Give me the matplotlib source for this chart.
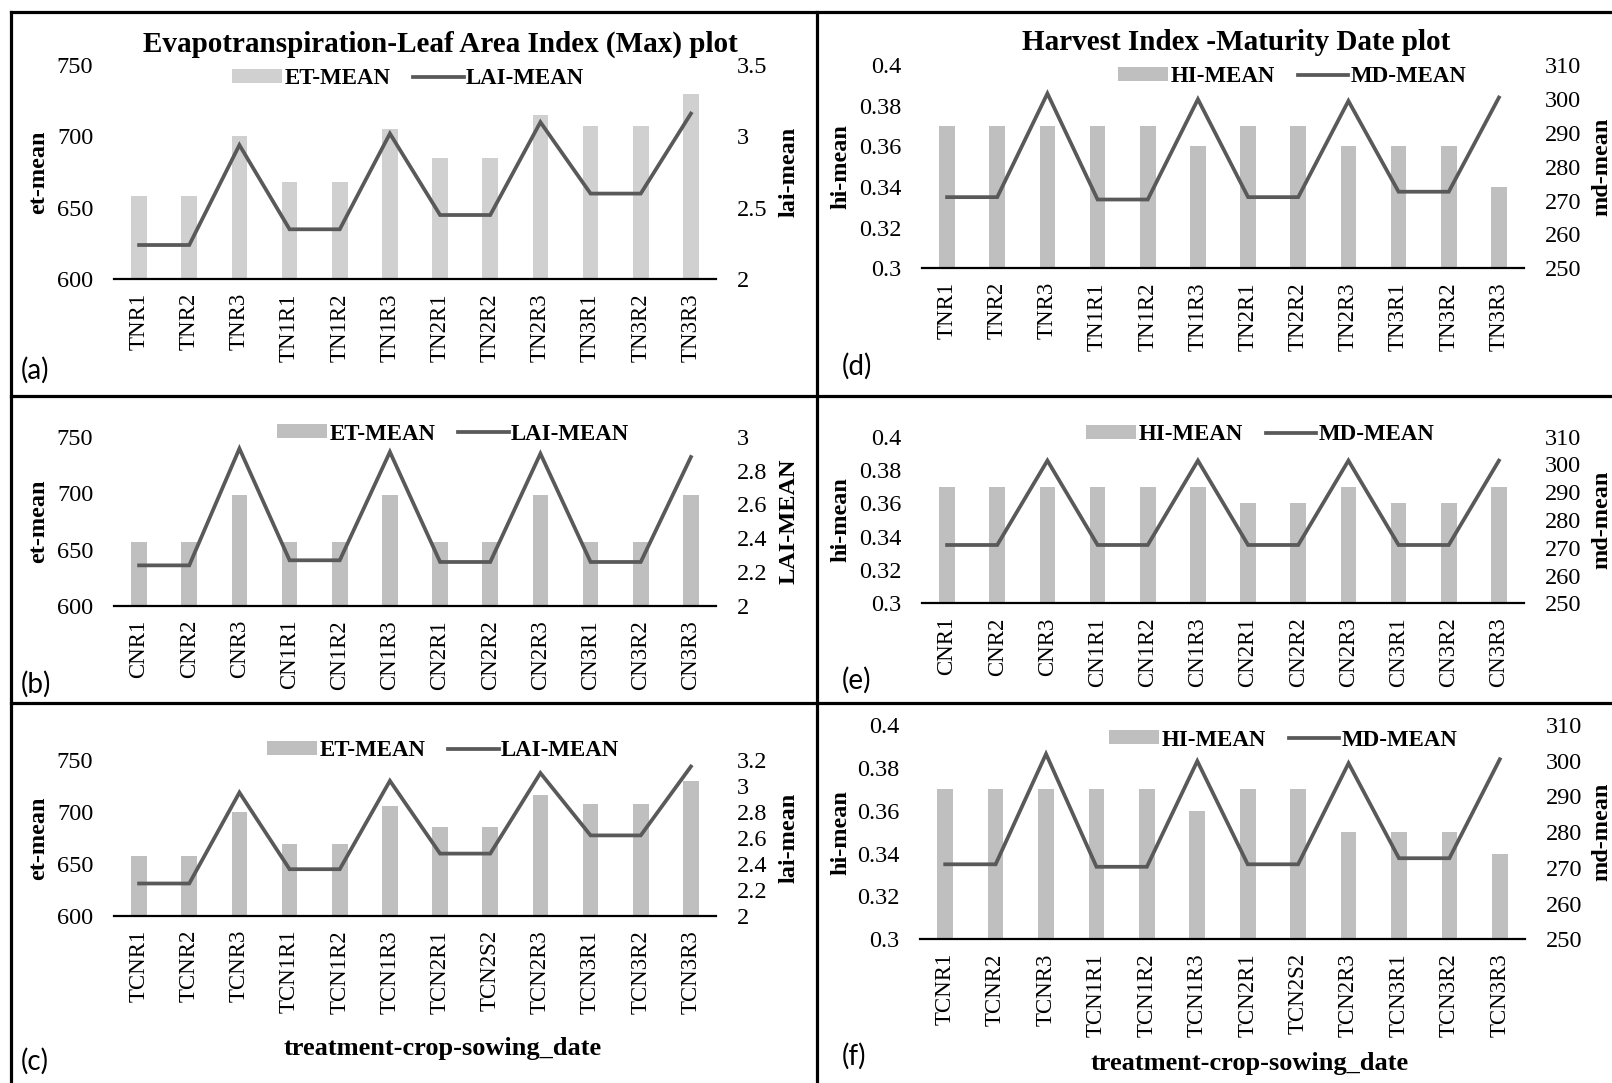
import matplotlib
matplotlib.use("Agg")
import matplotlib.pyplot as plt

W, H = 1612, 1083

# categories
t_cats = ["TNR1", "TNR2", "TNR3", "TN1R1", "TN1R2", "TN1R3",
          "TN2R1", "TN2R2", "TN2R3", "TN3R1", "TN3R2", "TN3R3"]
c_cats = ["CNR1", "CNR2", "CNR3", "CN1R1", "CN1R2", "CN1R3",
          "CN2R1", "CN2R2", "CN2R3", "CN3R1", "CN3R2", "CN3R3"]
tc_cats = ["TCNR1", "TCNR2", "TCNR3", "TCN1R1", "TCN1R2", "TCN1R3",
           "TCN2R1", "TCN2S2", "TCN2R3", "TCN3R1", "TCN3R2", "TCN3R3"]

# evapotranspiration / leaf area index
et_a = [658, 658, 700, 668, 668, 705, 685, 685, 715, 707, 707, 730]
lai_a = [2.24, 2.24, 2.94, 2.35, 2.35, 3.02, 2.45, 2.45, 3.10, 2.60, 2.60, 3.16]
et_b = [657, 657, 698, 657, 657, 698, 657, 657, 698, 657, 657, 698]
lai_b = [2.24, 2.24, 2.93, 2.27, 2.27, 2.91, 2.26, 2.26, 2.90, 2.26, 2.26, 2.88]
et_c = [658, 658, 700, 669, 669, 706, 686, 686, 716, 708, 708, 730]
lai_c = [2.25, 2.25, 2.95, 2.36, 2.36, 3.04, 2.48, 2.48, 3.10, 2.62, 2.62, 3.15]

# harvest index / maturity date
hi_d = [0.37, 0.37, 0.37, 0.37, 0.37, 0.36, 0.37, 0.37, 0.36, 0.36, 0.36, 0.34]
md_d = [271, 271, 301.6, 270.3, 270.3, 299.9, 271, 271, 299.4, 272.6, 272.6, 300.4]
hi_e = [0.37, 0.37, 0.37, 0.37, 0.37, 0.37, 0.36, 0.36, 0.37, 0.36, 0.36, 0.37]
md_e = [271, 271, 301.4, 271, 271, 301.4, 271, 271, 301.4, 271, 271, 301.4]
hi_f = [0.37, 0.37, 0.37, 0.37, 0.37, 0.36, 0.37, 0.37, 0.35, 0.35, 0.35, 0.34]
md_f = [271, 271, 301.9, 270.3, 270.3, 299.9, 271, 271, 299.3, 272.7, 272.7, 300.4]

et_ticks = [600, 650, 700, 750]
hi_ticks = [0.3, 0.32, 0.34, 0.36, 0.38, 0.4]
md_ticks = [250, 260, 270, 280, 290, 300, 310]

LINE = "#595959"
SERIF = "Liberation Serif"
plt.rcParams["font.family"] = [SERIF, "DejaVu Serif"]

fig = plt.figure(figsize=(W / 100, H / 100), dpi=100)


def fx(x):
    return x / W


def fy(y):
    return 1 - y / H


def panel(box, cats, bars, line, bar_color, yticks, y2ticks, ylab, y2lab,
          names, leg_xy, ylab_x, y2lab_x, tag, tag_xy, xlab=None):
    x0, y0, x1, y1 = box
    ax = fig.add_axes([fx(x0), fy(y1), fx(x1 - x0), (y1 - y0) / H])
    pos = list(range(len(cats)))
    ax.bar(pos, bars, width=0.31, color=bar_color, label=names[0], zorder=2)
    ax.set_xlim(-0.5, len(cats) - 0.5)
    ax.set_ylim(yticks[0], yticks[-1])
    ax.set_yticks(yticks)
    ax.set_yticklabels([f"{v:g}" for v in yticks], fontfamily=SERIF)
    ax.set_xticks(pos)
    ax.set_xticklabels(cats, rotation=90, fontfamily=SERIF)
    ax.tick_params(axis="y", length=0, pad=15, labelsize=17.5)
    ax.tick_params(axis="x", length=0, pad=10, labelsize=16.5)
    for s in ["top", "left", "right"]:
        ax.spines[s].set_visible(False)
    ax.spines["bottom"].set_linewidth(1.6)
    ax.spines["bottom"].set_zorder(5)
    ax.set_ylabel(ylab, fontsize=17.5, fontweight="bold", fontfamily=SERIF)
    ax.yaxis.set_label_coords(fx(ylab_x), fy((y0 + y1) / 2), transform=fig.transFigure)

    ax2 = ax.twinx()
    ax2.plot(pos, line, color=LINE, lw=2.7, label=names[1], solid_joinstyle="miter")
    ax2.set_ylim(y2ticks[0], y2ticks[-1])
    ax2.set_yticks(y2ticks)
    ax2.set_yticklabels([f"{v:g}" for v in y2ticks], fontfamily=SERIF)
    ax2.tick_params(axis="y", length=0, pad=15, labelsize=17.5)
    for s in ["top", "left", "right", "bottom"]:
        ax2.spines[s].set_visible(False)
    ax2.set_ylabel(y2lab, fontsize=17.5, fontweight="bold", fontfamily=SERIF)
    ax2.yaxis.set_label_coords(fx(y2lab_x), fy((y0 + y1) / 2), transform=fig.transFigure)

    h1, l1 = ax.get_legend_handles_labels()
    h2, l2 = ax2.get_legend_handles_labels()
    ax2.legend(h1 + h2, l1 + l2, loc="center", ncol=2, frameon=False,
               bbox_to_anchor=(fx(leg_xy[0]), fy(leg_xy[1])),
               bbox_transform=fig.transFigure,
               prop={"family": SERIF, "weight": "bold", "size": 16.5},
               handlelength=2.2, handleheight=0.55, handletextpad=0.1,
               columnspacing=1.0, borderpad=0)

    if xlab:
        ax.set_xlabel(xlab[0], fontsize=19, fontweight="bold", fontfamily=SERIF)
        ax.xaxis.set_label_coords(fx(xlab[1]), fy(xlab[2]), transform=fig.transFigure)

    fig.text(fx(tag_xy[0]), fy(tag_xy[1]), tag, family="Lato", fontsize=20,
             ha="left", va="center")
    return ax


panel((114, 65, 716, 279.3), t_cats, et_a, lai_a, "#d0d0d0", et_ticks,
      [2, 2.5, 3, 3.5], "et-mean", "lai-mean", ["ET-MEAN", "LAI-MEAN"],
      (408, 79), 49, 779, "(a)", (21, 370))
panel((114, 436.7, 716, 606), c_cats, et_b, lai_b, "#bfbfbf", et_ticks,
      [2, 2.2, 2.4, 2.6, 2.8, 3], "et-mean", "LAI-MEAN", ["ET-MEAN", "LAI-MEAN"],
      (453, 434), 49, 779, "(b)", (21, 684))
panel((114, 760, 716, 916), tc_cats, et_c, lai_c, "#bfbfbf", et_ticks,
      [2, 2.2, 2.4, 2.6, 2.8, 3, 3.2], "et-mean", "lai-mean", ["ET-MEAN", "LAI-MEAN"],
      (443, 751), 49, 779, "(c)", (21, 1061),
      xlab=("treatment-crop-sowing_date", 443, 1037))
panel((922, 65, 1524, 268.3), t_cats, hi_d, md_d, "#bfbfbf", hi_ticks,
      md_ticks, "hi-mean", "md-mean", ["HI-MEAN", "MD-MEAN"],
      (1292, 77), 851, 1591, "(d)", (842, 366))
panel((922, 436.7, 1524, 603.3), c_cats, hi_e, md_e, "#bfbfbf", hi_ticks,
      md_ticks, "hi-mean", "md-mean", ["HI-MEAN", "MD-MEAN"],
      (1260, 435), 851, 1591, "(e)", (842, 680))
panel((920, 725, 1525, 939.3), tc_cats, hi_f, md_f, "#bfbfbf", hi_ticks,
      md_ticks, "hi-mean", "md-mean", ["HI-MEAN", "MD-MEAN"],
      (1283, 740), 851, 1591, "(f)", (842, 1056),
      xlab=("treatment-crop-sowing_date", 1250, 1052))

fig.text(fx(440), fy(44), "Evapotranspiration-Leaf Area Index (Max) plot",
         fontsize=21, fontweight="bold", ha="center", va="center", family=SERIF)
fig.text(fx(1236), fy(42), "Harvest Index -Maturity Date plot",
         fontsize=21, fontweight="bold", ha="center", va="center", family=SERIF)

# panel frame lines
frame = dict(color="black", lw=2.3, transform=fig.transFigure, clip_on=False)
fig.add_artist(plt.Line2D([fx(10.5), fx(10.5)], [fy(11.7), 0], **frame))
fig.add_artist(plt.Line2D([fx(817), fx(817)], [fy(11.7), 0], **frame))
fig.add_artist(plt.Line2D([fx(10.5), 1], [fy(11.7), fy(11.7)], **frame))
fig.add_artist(plt.Line2D([fx(10.5), 1], [fy(396.5), fy(396.5)], **frame))
fig.add_artist(plt.Line2D([fx(10.5), 1], [fy(702.7), fy(702.7)], **frame))

fig.savefig("out.png", dpi=100)
